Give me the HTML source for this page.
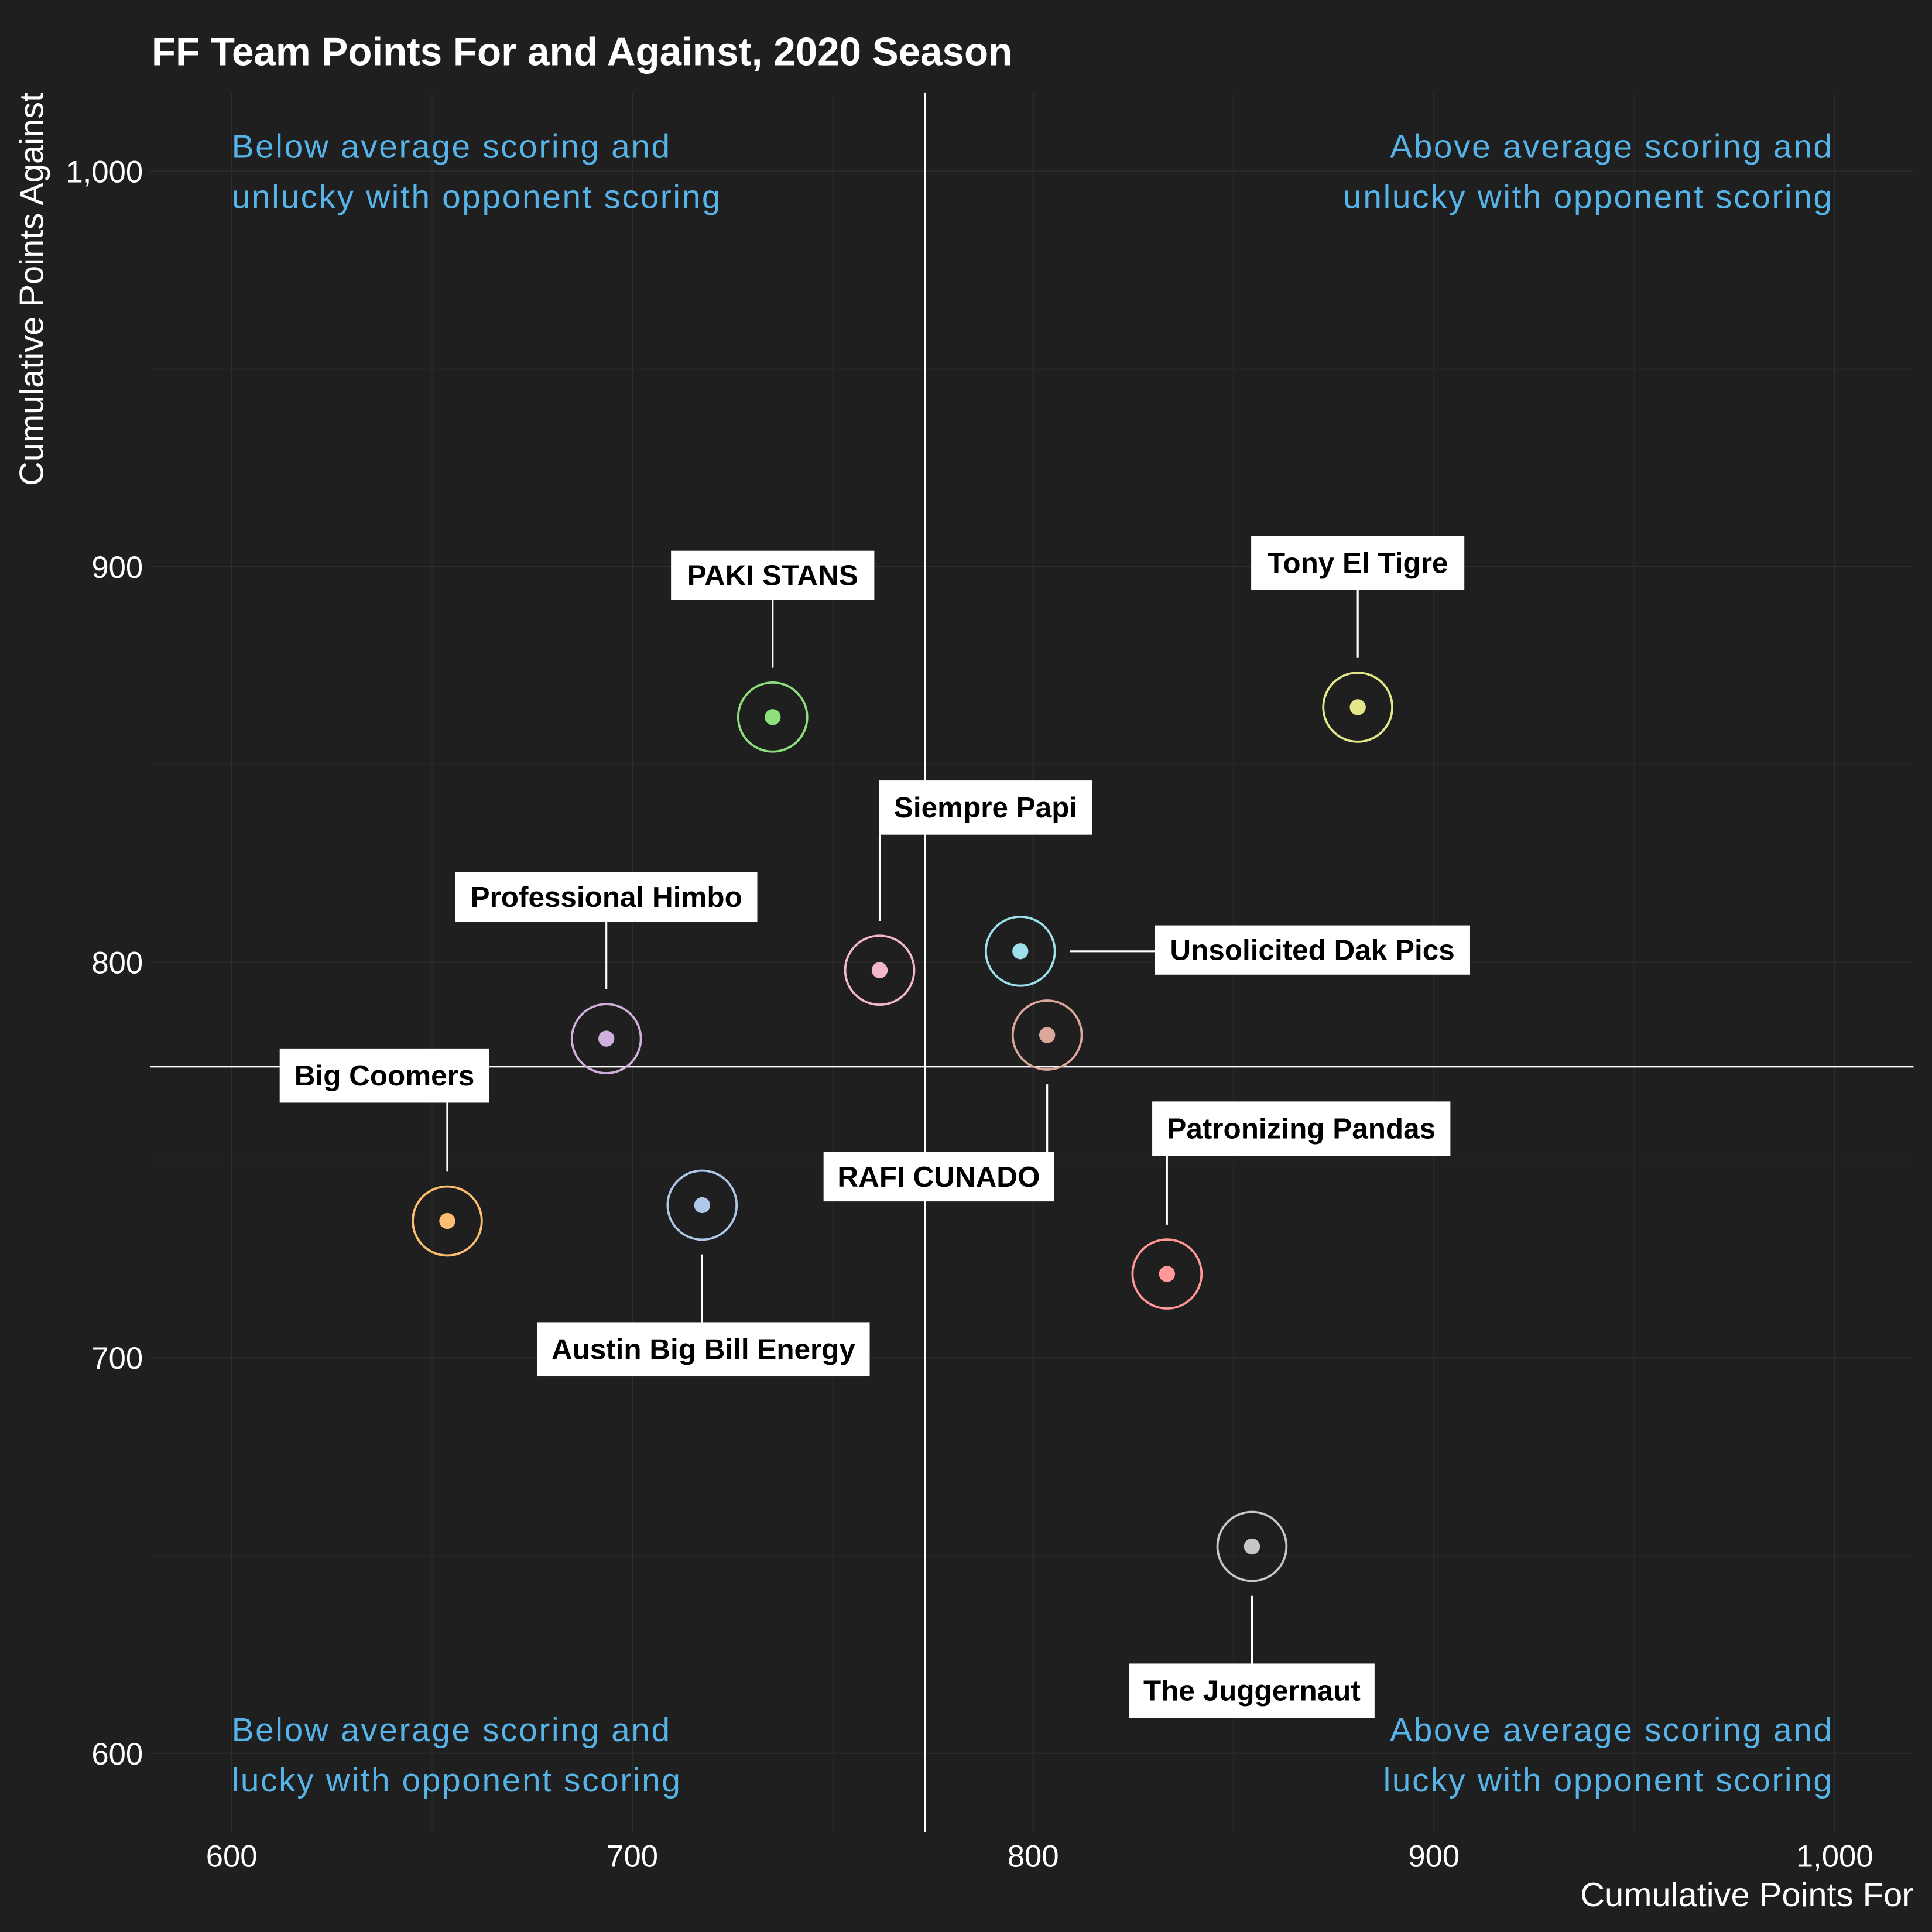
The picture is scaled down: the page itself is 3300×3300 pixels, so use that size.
<!DOCTYPE html>
<html><head><meta charset="utf-8"><style>
html,body{margin:0;padding:0;background:#1f1f1f;}
svg{display:block;}
</style></head><body>
<svg id="chart" width="3300" height="3300" viewBox="0 0 1568 1568" xmlns="http://www.w3.org/2000/svg">
<rect width="1568" height="1568" fill="#1f1f1f"/>
<g id="grid"></g>
<g id="marks"></g>
<text x="123" y="53" fill="#ffffff" font-family="Liberation Sans, sans-serif" font-weight="bold" font-size="32">FF Team Points For and Against, 2020 Season</text>
<text x="1553" y="1547" text-anchor="end" fill="#ffffff" font-family="Liberation Sans, sans-serif" font-size="27.5">Cumulative Points For</text>
<text transform="translate(35,75) rotate(-90)" text-anchor="end" fill="#ffffff" font-family="Liberation Sans, sans-serif" font-size="27.5">Cumulative Points Against</text>
<g font-family="Liberation Sans, DejaVu Sans, sans-serif" font-size="27" fill="#56b4e9" letter-spacing="1.25">
<text x="188" y="128"><tspan x="188">Below average scoring and</tspan><tspan x="188" dy="41">unlucky with opponent scoring</tspan></text>
<text x="1488" y="128" text-anchor="end"><tspan x="1488">Above average scoring and</tspan><tspan x="1488" dy="41">unlucky with opponent scoring</tspan></text>
<text x="188" y="1413"><tspan x="188">Below average scoring and</tspan><tspan x="188" dy="41">lucky with opponent scoring</tspan></text>
<text x="1488" y="1413" text-anchor="end"><tspan x="1488">Above average scoring and</tspan><tspan x="1488" dy="41">lucky with opponent scoring</tspan></text>
</g>
</svg>
<script>
const teams = ["PAKI STANS","Tony El Tigre","Siempre Papi","Unsolicited Dak Pics","RAFI CUNADO","Professional Himbo","Big Coomers","Austin Big Bill Energy","Patronizing Pandas","The Juggernaut"];
const pointsFor = [735, 881, 761.7, 796.8, 803.5, 693.5, 653.8, 717.4, 833.4, 854.6];
const pointsAgainst = [862, 864.5, 798, 802.8, 781.6, 780.7, 734.6, 738.6, 721.2, 652.3];
const colors = ["#8ee07d","#e5e68a","#f4b6cf","#9ddfea","#d9a89b","#cfb0dd","#fdbf6f","#aec7e8","#ff9896","#c7c7c7"];
const xTicks = [600,700,800,900,1000];
const yTicks = [600,700,800,900,1000];
const xTickLabels = ["600","700","800","900","1,000"];
const yTickLabels = ["600","700","800","900","1,000"];
const labelOffsets = [[0,-115,165,40],[0,-117,173,44],[86,-132,173,44],[237,-1,256,40],[-88,115,187,40],[0,-115,245,40],[-51,-118,170,44],[1,117,270,44],[109,-118,242,44],[0,117,199,44]];

const NS = "http://www.w3.org/2000/svg";
const xS = v => 188 + (v-600)*3.2525;
const yS = v => 1423 - (v-600)*3.21;
const grid = document.getElementById('grid');
const marks = document.getElementById('marks');
function mk(tag, attrs, parent){const e=document.createElementNS(NS,tag);for(const k in attrs)e.setAttribute(k,attrs[k]);parent.appendChild(e);return e;}

for (let v=550; v<=1050; v+=50){
  const x=xS(v); if(x>=122&&x<=1553){const l=mk('line',{x1:x,x2:x,y1:75,y2:1487,stroke:v%100?'#262626':'#2d2d2d','stroke-width':1},grid);
  
  }
  const y=yS(v); if(y>=75&&y<=1487){const l=mk('line',{x1:122,x2:1553,y1:y,y2:y,stroke:v%100?'#262626':'#2d2d2d','stroke-width':1},grid);
  
  }
}
xTicks.forEach((v,i)=>{const t=mk('text',{x:xS(v),y:1515,'text-anchor':'middle',fill:'#ffffff','font-family':'Liberation Sans, sans-serif','font-size':25},grid);t.textContent=xTickLabels[i];

});
yTicks.forEach((v,i)=>{const t=mk('text',{x:116,y:yS(v)+9,'text-anchor':'end',fill:'#ffffff','font-family':'Liberation Sans, sans-serif','font-size':25},grid);t.textContent=yTickLabels[i];

});

const meanX = pointsFor.reduce((a,b)=>a+b,0)/pointsFor.length;
const meanY = pointsAgainst.reduce((a,b)=>a+b,0)/pointsAgainst.length;
const vl=mk('line',{x1:xS(meanX),x2:xS(meanX),y1:75,y2:1487,stroke:'#ffffff','stroke-width':1.5},marks);


const hl=mk('line',{x1:122,x2:1553,y1:yS(meanY),y2:yS(meanY),stroke:'#ffffff','stroke-width':1.5},marks);



teams.forEach((name,i)=>{
  const px=xS(pointsFor[i]), py=yS(pointsAgainst[i]);
  const [dx,dy,w,h]=labelOffsets[i];
  const cx=px+dx, cy=py+dy;
  const bx=Math.max(cx-w/2,Math.min(px,cx+w/2)), by=Math.max(cy-h/2,Math.min(py,cy+h/2));
  const ddx=bx-px, ddy=by-py, d=Math.hypot(ddx,ddy)||1;
  const ln=mk('line',{x1:bx,y1:by,x2:px+ddx/d*40,y2:py+ddy/d*40,stroke:'#ffffff','stroke-width':1.5},marks);
  
  
  const ring=mk('circle',{cx:px,cy:py,r:28,fill:'none',stroke:colors[i],'stroke-width':1.8},marks);
  
  
  const dot=mk('circle',{cx:px,cy:py,r:6.5,fill:colors[i]},marks);
  
  
  const box=mk('rect',{x:cx-w/2,y:cy-h/2,width:w,height:h,fill:'#ffffff'},marks);
  
  
  const t=mk('text',{x:cx,y:cy+8,'text-anchor':'middle',fill:'#000000','font-family':'Liberation Sans, sans-serif','font-weight':'bold','font-size':23.5},marks);
  t.textContent=name;
  
  
});
</script>
</body></html>
